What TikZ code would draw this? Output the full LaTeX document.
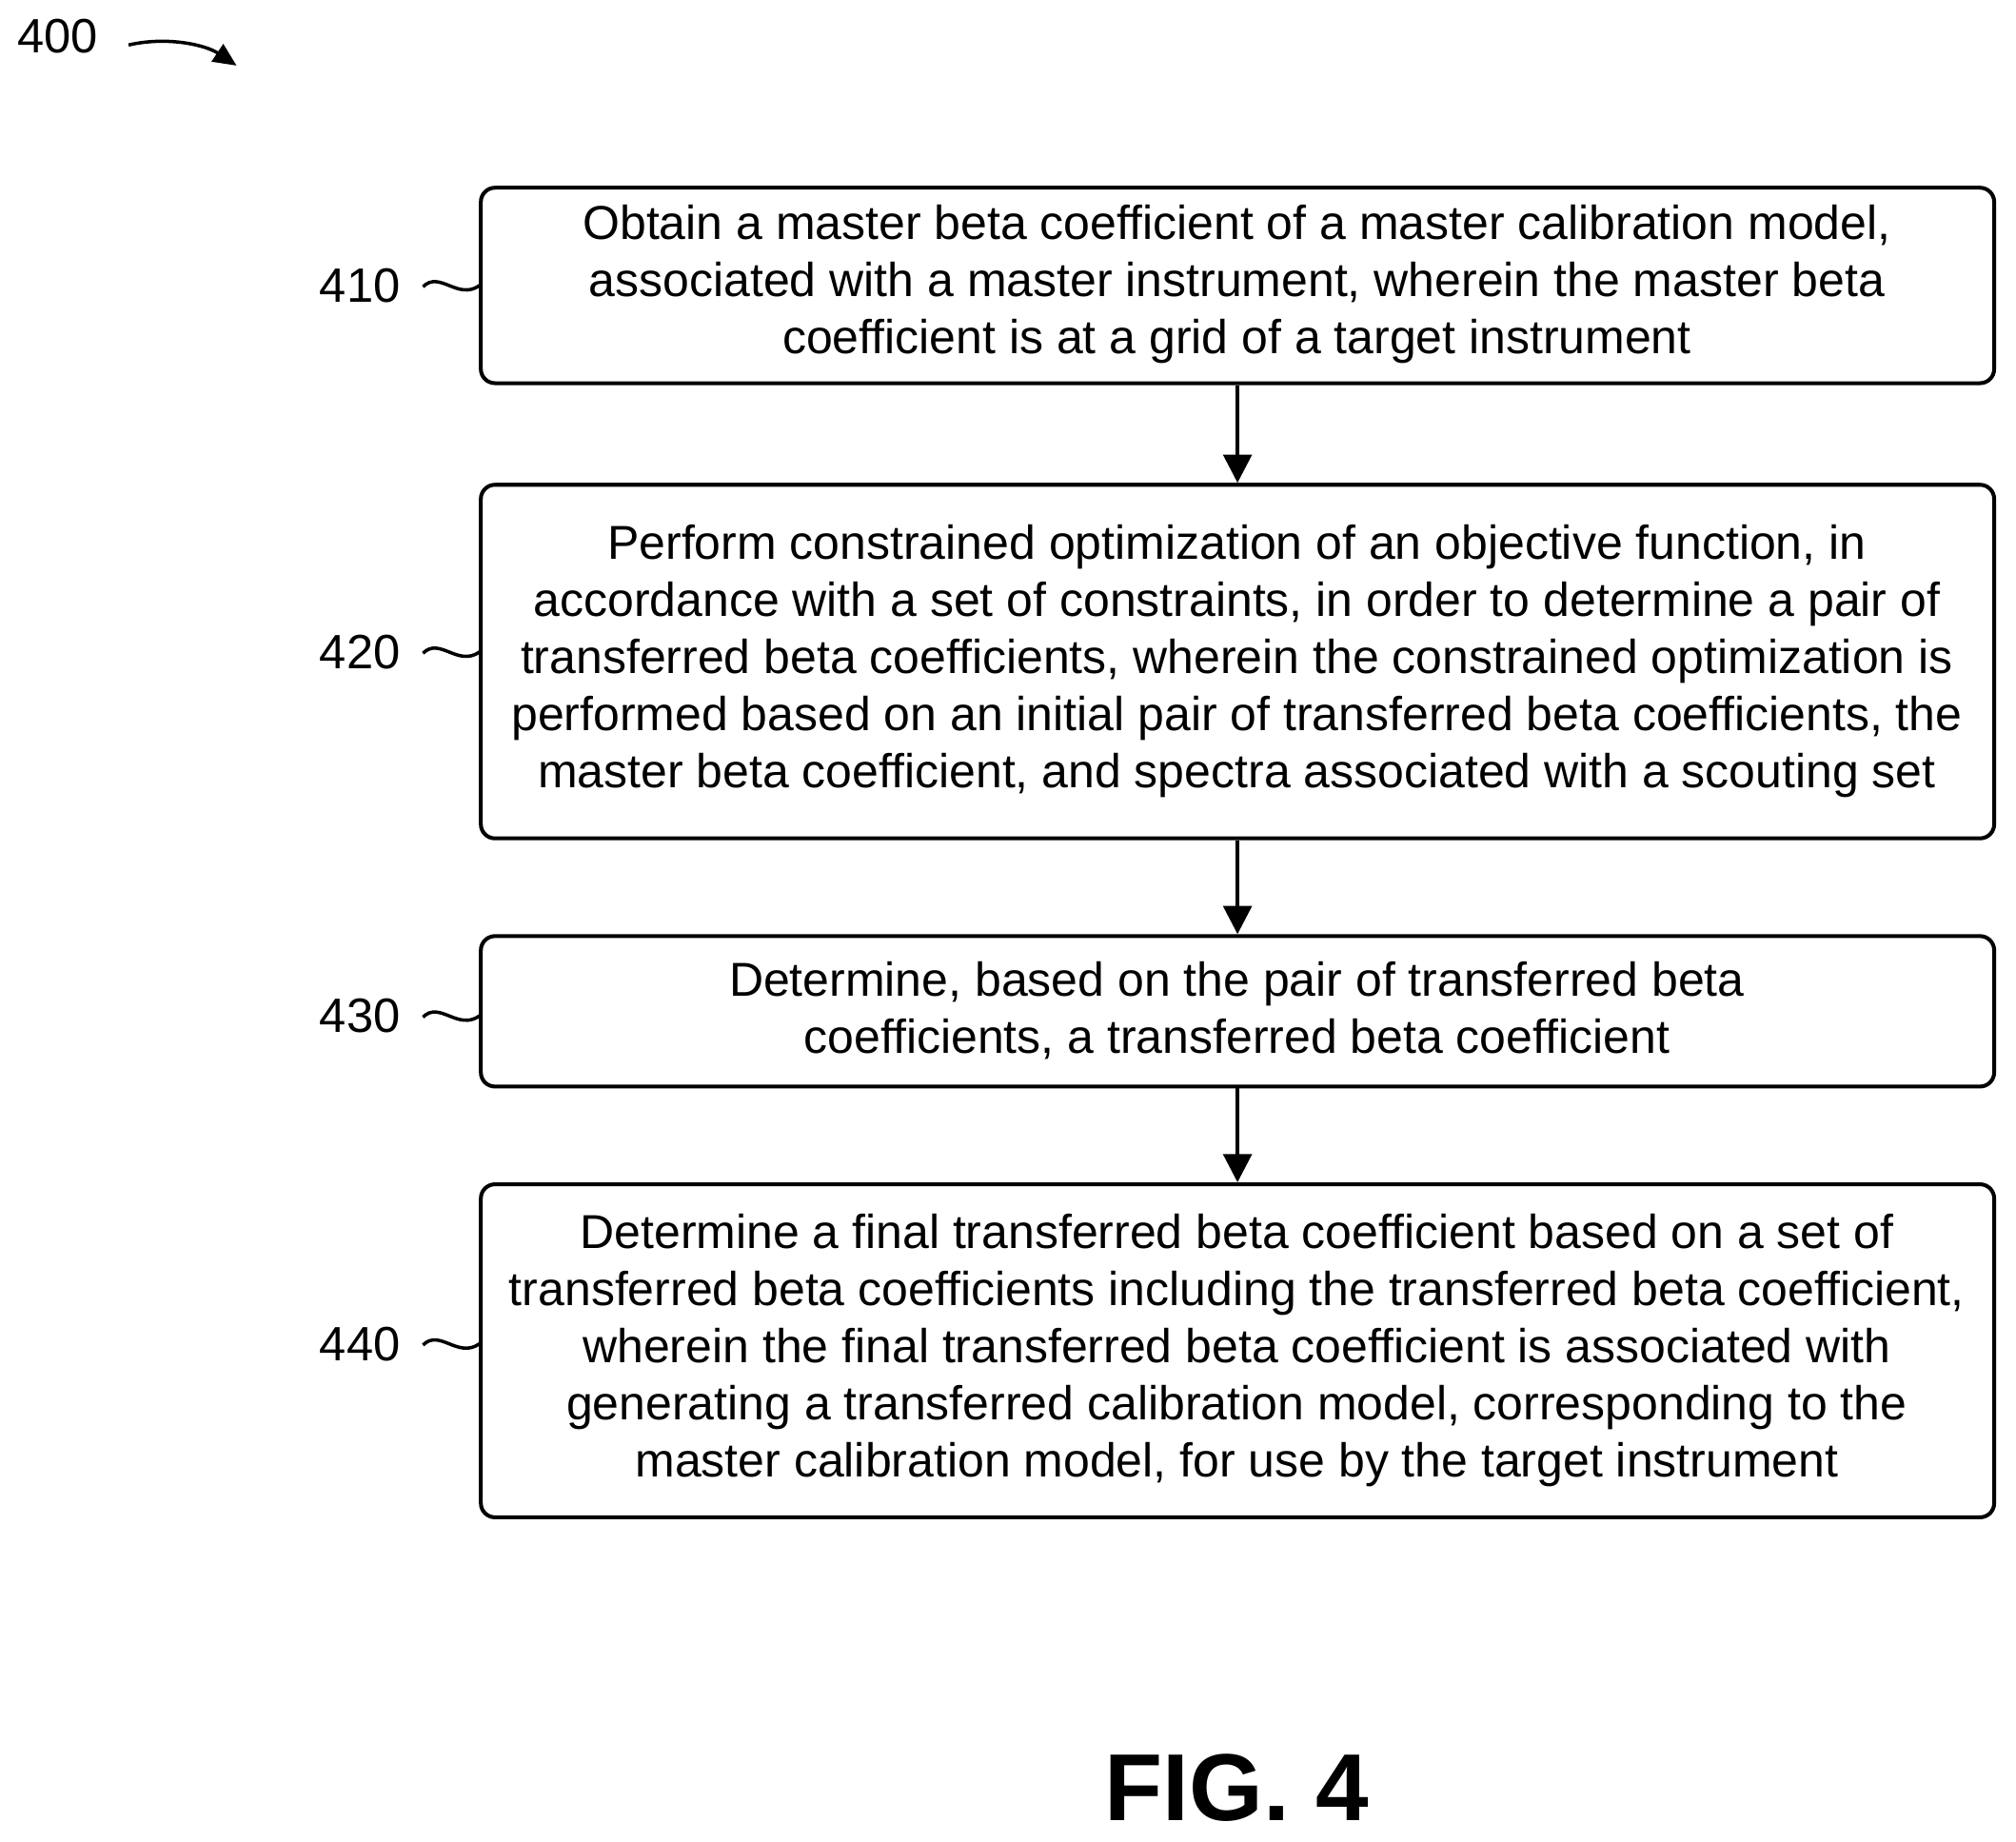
\documentclass[tikz,border=0pt]{standalone}
\usepackage{fontspec}
\setmainfont{Liberation Sans}
\usetikzlibrary{arrows.meta}
\begin{document}
\begin{tikzpicture}[x=1pt,y=-1pt,
 box/.style={draw,line width=3pt,rounded corners=11pt,inner sep=0pt},
 txt/.style={align=center,font=\fontsize{37}{44.5}\selectfont},
 lab/.style={font=\fontsize{37.5}{40}\selectfont},
 arr/.style={line width=3pt,-{Triangle[length=22pt,width=22pt]}},
 sq/.style={line width=2.6pt}]
\useasboundingbox (0,0) rectangle (1568,1432);
\node[box,minimum width=1177pt,minimum height=152pt] (b1) at (962.5,222) {};
\node[box,minimum width=1177pt,minimum height=275pt] (b2) at (962.5,514.5) {};
\node[box,minimum width=1177pt,minimum height=117pt] (b3) at (962.5,786.5) {};
\node[box,minimum width=1177pt,minimum height=259pt] (b4) at (962.5,1050.5) {};
\node[txt] (t1) at (962,221) {Obtain a master beta coefficient of a master calibration model,\\associated with a master instrument, wherein the master beta\\coefficient is at a grid of a target instrument};
\node[txt] (t2) at (962,514) {Perform constrained optimization of an objective function, in\\accordance with a set of constraints, in order to determine a pair of\\transferred beta coefficients, wherein the constrained optimization is\\performed based on an initial pair of transferred beta coefficients, the\\master beta coefficient, and spectra associated with a scouting set};
\node[txt] (t3) at (962,786) {Determine, based on the pair of transferred beta\\coefficients, a transferred beta coefficient};
\node[txt] (t4) at (962,1050) {Determine a final transferred beta coefficient based on a set of\\transferred beta coefficients including the transferred beta coefficient,\\wherein the final transferred beta coefficient is associated with\\generating a transferred calibration model, corresponding to the\\master calibration model, for use by the target instrument};
\draw[arr] (b1.south) -- (b2.north);
\draw[arr] (b2.south) -- (b3.north);
\draw[arr] (b3.south) -- (b4.north);
\foreach \n/\y in {410/222,420/507,430/790,440/1045}{
 \node[lab] (l\n) at (280,\y) {\n};
 \draw[sq] (329,\y+1) .. controls (342,\y-12) and (356,\y+12) .. (373,\y);
}
\node[lab] (l400) at (45,28) {400};
\coordinate (a0) at (100,35);
\coordinate (a1) at (184,51);
\draw[line width=2.6pt,-{Triangle[length=18pt,width=16pt]}] (a0) .. controls (130,28) and (160,35) .. (a1);
\node[font=\fontsize{74}{80}\selectfont\bfseries] (fig) at (962,1390) {FIG. 4};
\end{tikzpicture}
\end{document}
